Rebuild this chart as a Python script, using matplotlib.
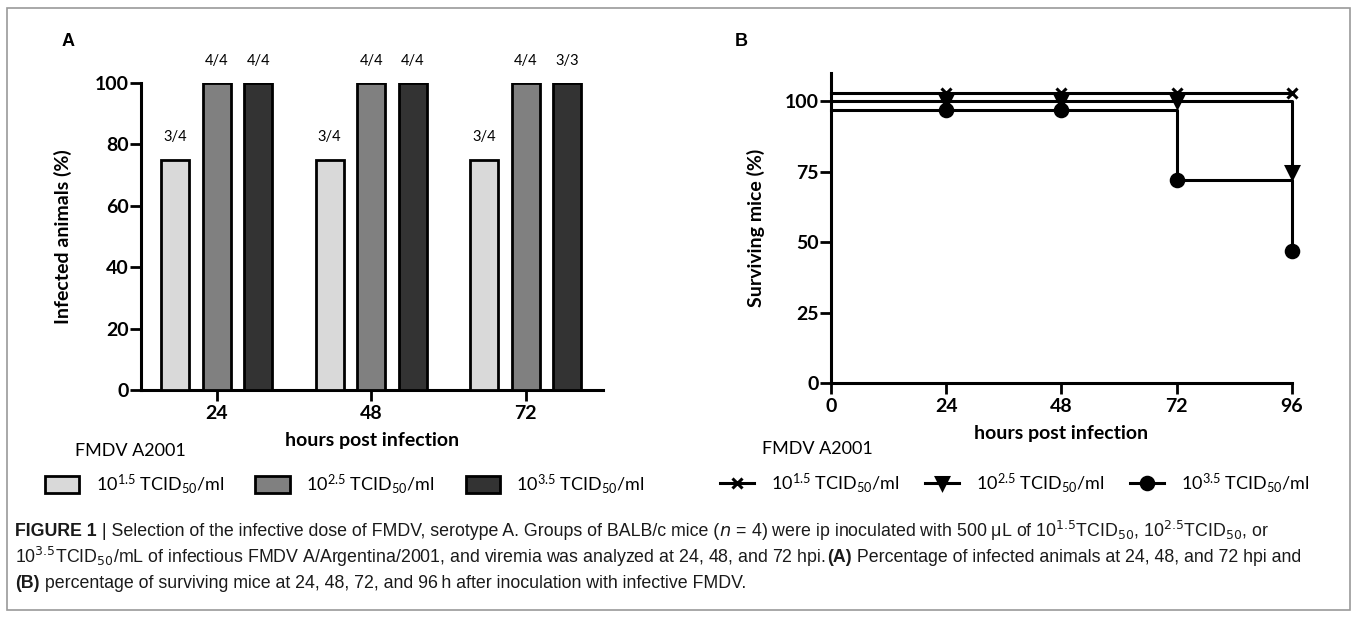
import matplotlib
matplotlib.use("Agg")
import matplotlib.pyplot as plt
from matplotlib.patches import Patch, Rectangle
from matplotlib.lines import Line2D

plt.rcParams['font.family'] = ['Lato', 'DejaVu Sans']
plt.rcParams['mathtext.fontset'] = 'custom'
plt.rcParams['mathtext.rm'] = 'Lato'
plt.rcParams['mathtext.it'] = 'Lato:italic'
plt.rcParams['mathtext.bf'] = 'Lato:bold'

# panel A data: % infected animals
hours_a = ['24', '48', '72']
dose_labels = [r'10$^{1.5}$ TCID$_{50}$/ml', r'10$^{2.5}$ TCID$_{50}$/ml', r'10$^{3.5}$ TCID$_{50}$/ml']
infected_15 = [75, 75, 75]
infected_25 = [100, 100, 100]
infected_35 = [100, 100, 100]
ratio_15 = ['3/4', '3/4', '3/4']
ratio_25 = ['4/4', '4/4', '4/4']
ratio_35 = ['4/4', '4/4', '3/3']

# panel B data: % surviving mice (Kaplan-Meier)
hours_b = [0, 24, 48, 72, 96]
surv_15 = [100, 100, 100, 100, 100]
surv_25 = [100, 100, 100, 100, 75]
surv_35 = [100, 100, 100, 75, 50]

fig = plt.figure(figsize=(13.57, 6.17), dpi=100)

# outer frame of the figure
fig.patches.append(Rectangle((7 / 1357, 1 - 610 / 617), 1343 / 1357, 602 / 617,
                             transform=fig.transFigure, fill=False,
                             edgecolor='#9a9a9a', linewidth=1.2))

def style_axes(ax):
    for s in ['top', 'right']:
        ax.spines[s].set_visible(False)
    for s in ['left', 'bottom']:
        ax.spines[s].set_linewidth(2.2)
    ax.tick_params(width=2.0, length=8, pad=1, labelsize=14)
    for lab in ax.get_xticklabels() + ax.get_yticklabels():
        lab.set_fontweight('bold')

# ---------------- Panel A ----------------
axA = fig.add_axes([141 / 1357, 227 / 617, 462 / 1357, 307 / 617])
pos = list(range(len(hours_a)))
w = 0.181
off = 0.269
colors = ['#d9d9d9', '#808080', '#333333']
series = [infected_15, infected_25, infected_35]
ratios = [ratio_15, ratio_25, ratio_35]
for i, (vals, rat) in enumerate(zip(series, ratios)):
    xs = [p + (i - 1) * off for p in pos]
    axA.bar(xs, vals, width=w, color=colors[i], edgecolor='black', linewidth=2, zorder=3)
    for x, v, r in zip(xs, vals, rat):
        axA.text(x, v + 5, r, ha='center', va='bottom', fontsize=10.5)

axA.set_xlim(-0.49, 2.5)
axA.set_ylim(0, 100)
axA.set_xticks(pos)
axA.set_xticklabels(hours_a)
axA.set_yticks([0, 20, 40, 60, 80, 100])
style_axes(axA)
axA.set_xlabel('hours post infection', fontsize=14, fontweight='bold', labelpad=7)
axA.set_ylabel('Infected animals (%)', fontsize=14, fontweight='bold', labelpad=16)
axA.xaxis.set_tick_params(pad=3)

fig.text(68 / 1357, 1 - 42 / 617, 'A', fontsize=13, fontweight='bold',
         family='Liberation Sans', ha='center', va='center')
fig.text(75 / 1357, 1 - 451 / 617, 'FMDV A2001', fontsize=13, ha='left', va='center')

handlesA = [Patch(facecolor=c, edgecolor='black', linewidth=2) for c in colors]
fig.legend(handlesA, dose_labels, loc='center left',
           bbox_to_anchor=(45 / 1357, 1 - 484 / 617), ncol=3, frameon=False,
           fontsize=13, handlelength=1.9, handleheight=1.1, handletextpad=0.9,
           columnspacing=1.75, borderpad=0, borderaxespad=0)

# ---------------- Panel B ----------------
axB = fig.add_axes([831 / 1357, 234 / 617, 461 / 1357, 310 / 617])
offsets = [3, 0, -3]   # GraphPad-style vertical nudge so the lines do not overlap
markers = ['x', 'v', 'o']
msizes = [7, 9, 9]
survs = [surv_15, surv_25, surv_35]
# draw lowest series first so the upper markers sit on top
for k, (s, o, m, ms) in enumerate(reversed(list(zip(survs, offsets, markers, msizes)))):
    ys = [v + o for v in s]
    axB.plot(hours_b, ys, drawstyle='steps-post', color='black', linewidth=2.2,
             zorder=3 + k, clip_on=False)
    axB.plot(hours_b[1:], ys[1:], linestyle='none', marker=m, markersize=ms,
             color='black', markeredgewidth=2.2, zorder=3 + k, clip_on=False)

axB.set_xlim(0, 96)
axB.set_ylim(0, 110)
axB.set_xticks(hours_b)
axB.set_yticks([0, 25, 50, 75, 100])
style_axes(axB)
axB.set_xlabel('hours post infection', fontsize=14, fontweight='bold', labelpad=7)
axB.set_ylabel('Surviving mice (%)', fontsize=14, fontweight='bold', labelpad=14)
axB.xaxis.set_tick_params(pad=3)

fig.text(741 / 1357, 1 - 42 / 617, 'B', fontsize=13, fontweight='bold',
         family='Liberation Sans', ha='center', va='center')
fig.text(762 / 1357, 1 - 449 / 617, 'FMDV A2001', fontsize=13, ha='left', va='center')

handlesB = [Line2D([], [], color='black', linewidth=2.2, marker=m, markersize=ms,
                   markeredgewidth=2.2) for m, ms in zip(markers, msizes)]
fig.legend(handlesB, dose_labels, loc='center left',
           bbox_to_anchor=(720 / 1357, 1 - 483 / 617), ncol=3, frameon=False,
           fontsize=13, handlelength=1.9, handletextpad=0.9,
           columnspacing=1.45, borderpad=0, borderaxespad=0)

# ---------------- Caption ----------------
cap_font = ['Liberation Sans Narrow', 'Liberation Sans']
cap_size = 12.8
caption = [
    [('FIGURE 1', 'bold'), (' | Selection of the infective dose of FMDV, serotype A. Groups of BALB/c mice (', 'normal'),
     (r'$\it{n}$', 'normal'), (' = 4) were ip inoculated with 500 \u03bcL of 10$^{1.5}$TCID$_{50}$, 10$^{2.5}$TCID$_{50}$, or', 'normal')],
    [('10$^{3.5}$TCID$_{50}$/mL of infectious FMDV A/Argentina/2001, and viremia was analyzed at 24, 48, and 72 hpi. ', 'normal'),
     ('(A)', 'bold'), (' Percentage of infected animals at 24, 48, and 72 hpi and', 'normal')],
    [('(B)', 'bold'), (' percentage of surviving mice at 24, 48, 72, and 96\u2009h after inoculation with infective FMDV.', 'normal')],
]
line_y = [531, 557, 584]

renderer = fig.canvas.get_renderer()
for segs, y in zip(caption, line_y):
    x = 15
    for txt, wt in segs:
        t = fig.text(x / 1357, 1 - y / 617, txt, fontsize=cap_size, fontweight=wt,
                     family=cap_font, math_fontfamily='dejavusans',
                     ha='left', va='center', color='#1a1a1a')
        bb = t.get_window_extent(renderer=renderer)
        x += bb.width

fig.savefig('out.png', dpi=100)
